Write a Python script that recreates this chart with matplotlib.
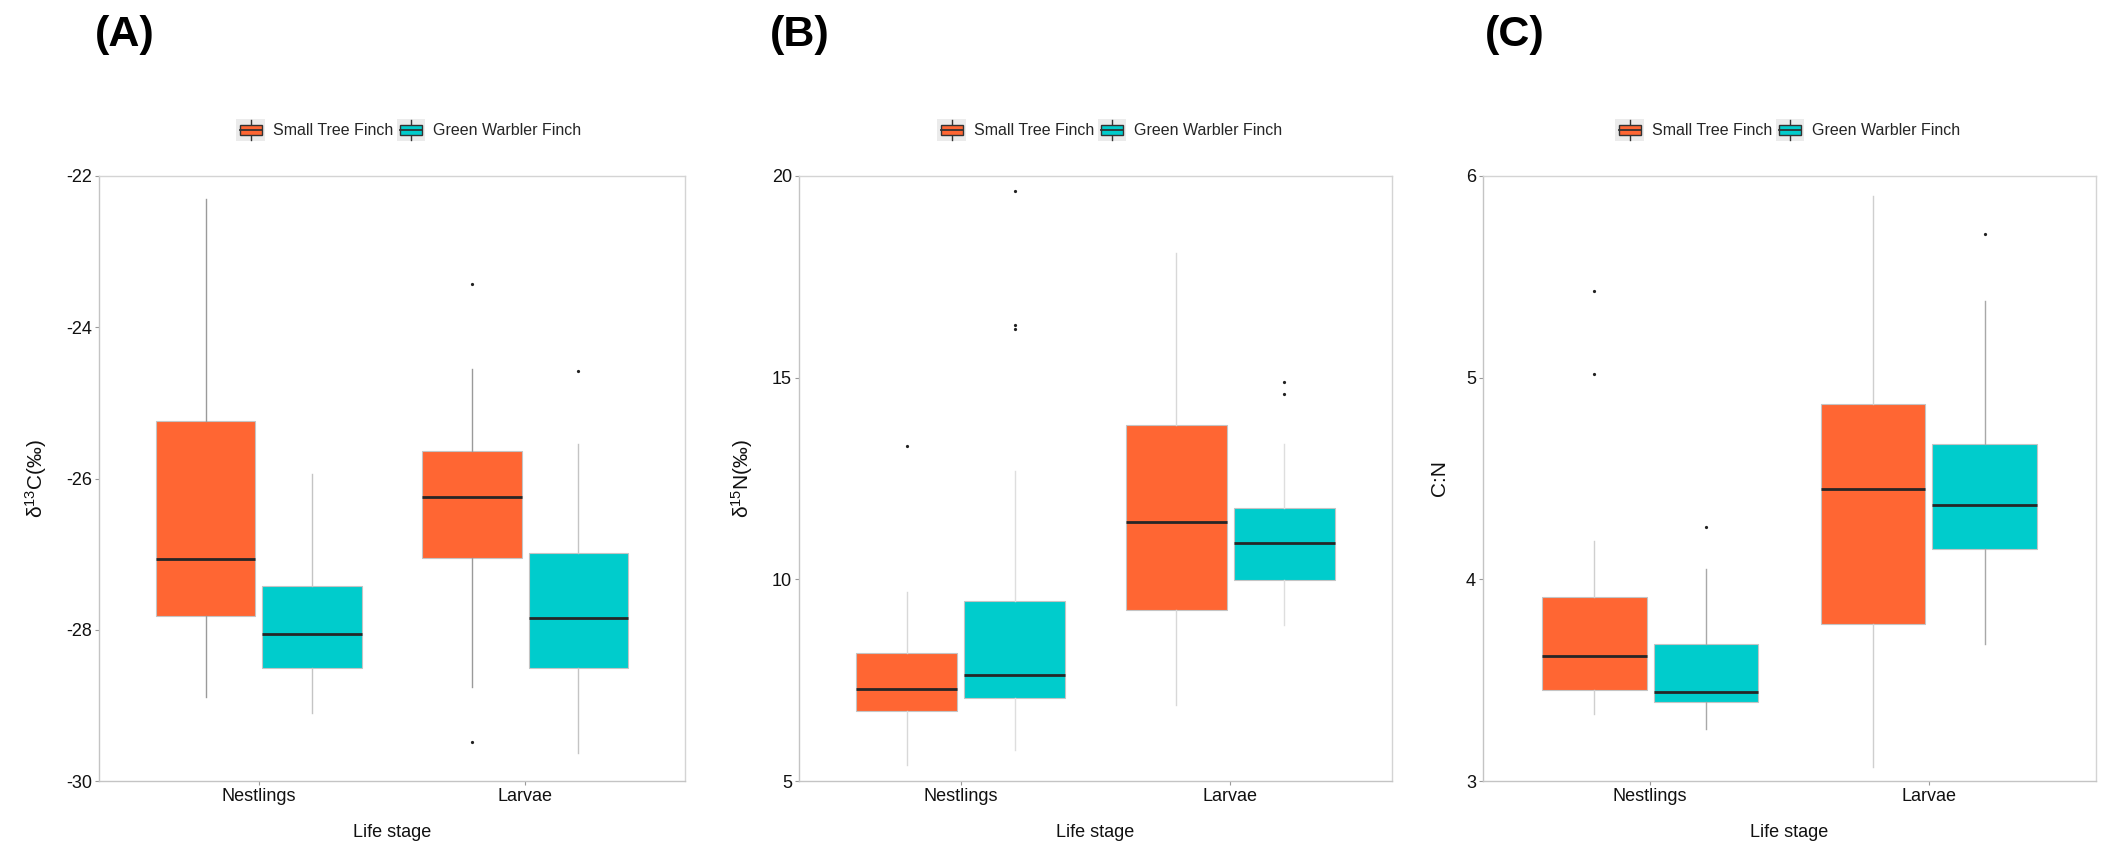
"""Stable isotope boxplots: nestlings vs larvae, two finch species."""
import matplotlib
matplotlib.use("Agg")
import matplotlib.pyplot as plt
from matplotlib.patches import Patch, Rectangle
from matplotlib.lines import Line2D
from matplotlib.legend_handler import HandlerBase

plt.rcParams["font.family"] = ["Liberation Sans", "DejaVu Sans"]
plt.rcParams["mathtext.fontset"] = "custom"
plt.rcParams["mathtext.rm"] = "Liberation Sans"
plt.rcParams["mathtext.it"] = "Liberation Sans:italic"
plt.rcParams["axes.unicode_minus"] = False

W, H = 2111, 857

stages = ["Nestlings", "Larvae"]
species = ["Small Tree Finch", "Green Warbler Finch"]
colors = ["#FF6633", "#00CCCC"]

# each box: [whisker low, q1, median, q3, whisker high], per stage
c13_stf = [[-28.89, -27.82, -27.07, -25.24, -22.30], [-28.76, -27.05, -26.24, -25.64, -24.55]]
c13_gwf = [[-29.10, -28.50, -28.05, -27.42, -25.94], [-29.63, -28.51, -27.85, -26.98, -25.55]]
c13_stf_out = [[], [-23.43, -29.49]]
c13_gwf_out = [[], [-24.58]]

n15_stf = [[5.40, 6.74, 7.29, 8.18, 9.69], [6.88, 9.24, 11.43, 13.82, 18.10]]
n15_gwf = [[5.78, 7.06, 7.64, 9.46, 12.68], [8.88, 9.98, 10.91, 11.78, 13.35]]
n15_stf_out = [[13.30], []]
n15_gwf_out = [[19.62, 16.31, 16.21], [14.90, 14.60]]

cn_stf = [[3.33, 3.45, 3.62, 3.91, 4.19], [3.07, 3.78, 4.45, 4.87, 5.90]]
cn_gwf = [[3.26, 3.39, 3.44, 3.68, 4.05], [3.68, 4.15, 4.37, 4.67, 5.38]]
cn_stf_out = [[5.43, 5.02], []]
cn_gwf_out = [[4.26], [5.71]]

panels = [
    ("(A)", "δ$^{13}$C(‰)", c13_stf, c13_gwf, c13_stf_out, c13_gwf_out, (-30, -22), [-30, -28, -26, -24, -22]),
    ("(B)", "δ$^{15}$N(‰)", n15_stf, n15_gwf, n15_stf_out, n15_gwf_out, (5, 20), [5, 10, 15, 20]),
    ("(C)", "C:N", cn_stf, cn_gwf, cn_stf_out, cn_gwf_out, (3, 6), [3, 4, 5, 6]),
]

# layout in pixels
ax_px = [(99, 685), (799, 1392), (1483, 2096)]
ax_top, ax_bot = 176, 781
legend_cx = [409, 1110, 1788]
label_x = [95, 770, 1485]
whisker_cols = [["#9a9a9a", "#c4c4c4"], ["#d8d8d8", "#dedede"], ["#cfcfcf", "#a8a8a8"]]


class BoxKey(HandlerBase):
    def create_artists(self, legend, orig_handle, xdescent, ydescent, width, height, fontsize, trans):
        x0, y0 = -xdescent, -ydescent
        bg = Rectangle((x0, y0), width, height, facecolor="#ebebeb", edgecolor="none", transform=trans)
        cx = x0 + width / 2
        wl = Line2D([cx, cx], [y0 + 0.04 * height, y0 + 0.96 * height], color="#333333", lw=1.0, transform=trans)
        box = Rectangle((x0 + 0.12 * width, y0 + 0.27 * height), 0.76 * width, 0.46 * height,
                        facecolor=orig_handle.get_facecolor(), edgecolor="#333333", lw=1.0, transform=trans)
        med = Line2D([x0 + 0.12 * width, x0 + 0.88 * width], [y0 + height / 2] * 2,
                     color="#333333", lw=1.3, transform=trans)
        return [bg, wl, box, med]


fig = plt.figure(figsize=(W / 100, H / 100), dpi=100)

for i, (tag, ylab, stf, gwf, stf_out, gwf_out, ylim, yticks) in enumerate(panels):
    l, r = ax_px[i]
    ax = fig.add_axes([l / W, 1 - ax_bot / H, (r - l) / W, (ax_bot - ax_top) / H])

    for k, (vals, outs) in enumerate([(stf, stf_out), (gwf, gwf_out)]):
        stats = []
        for s in range(len(stages)):
            lo, q1, med, q3, hi = vals[s]
            stats.append(dict(whislo=lo, q1=q1, med=med, q3=q3, whishi=hi, fliers=outs[s]))
        pos = [s + 1 + (-0.2 if k == 0 else 0.2) for s in range(len(stages))]
        ax.bxp(stats, positions=pos, widths=0.375, patch_artist=True, showcaps=False,
               manage_ticks=False,
               boxprops=dict(facecolor=colors[k], edgecolor="#c4c4c4", linewidth=0.8),
               medianprops=dict(color="#262626", linewidth=2.0),
               whiskerprops=dict(color=whisker_cols[i][k], linewidth=1.0),
               flierprops=dict(marker="o", markersize=1.3, markerfacecolor="#222222",
                               markeredgecolor="#222222", linestyle="none"))

    ax.set_xlim(0.4, 2.6)
    ax.set_ylim(*ylim)
    ax.set_yticks(yticks)
    ax.set_xticks([1, 2])
    ax.set_xticklabels(stages)
    for sp in ax.spines.values():
        sp.set_color("#d4d4d4")
        sp.set_linewidth(1.0)
    ax.spines["left"].set_color("#c4c4c4")
    ax.spines["bottom"].set_color("#c4c4c4")
    ax.tick_params(axis="both", labelsize=13, length=3, width=0.8, color="#999999",
                   pad=2, labelcolor="#111111")
    ax.set_xlabel("Life stage", fontsize=13, labelpad=14, color="#111111")
    ax.set_ylabel(ylab, fontsize=15, labelpad=12, color="#111111")

    handles = [Patch(facecolor=c) for c in colors]
    fig.legend(handles, species, loc="center", bbox_to_anchor=(legend_cx[i] / W, 1 - 130 / H),
               ncol=2, frameon=False, fontsize=11.5, handlelength=1.8, handleheight=1.8,
               handletextpad=0.5, columnspacing=0.2, borderpad=0, labelcolor="#262626",
               handler_map={Patch: BoxKey()})

    fig.text(label_x[i] / W, 1 - 35 / H, tag, fontsize=31, fontweight="bold",
             ha="left", va="center")

fig.savefig("out.png", dpi=100)
